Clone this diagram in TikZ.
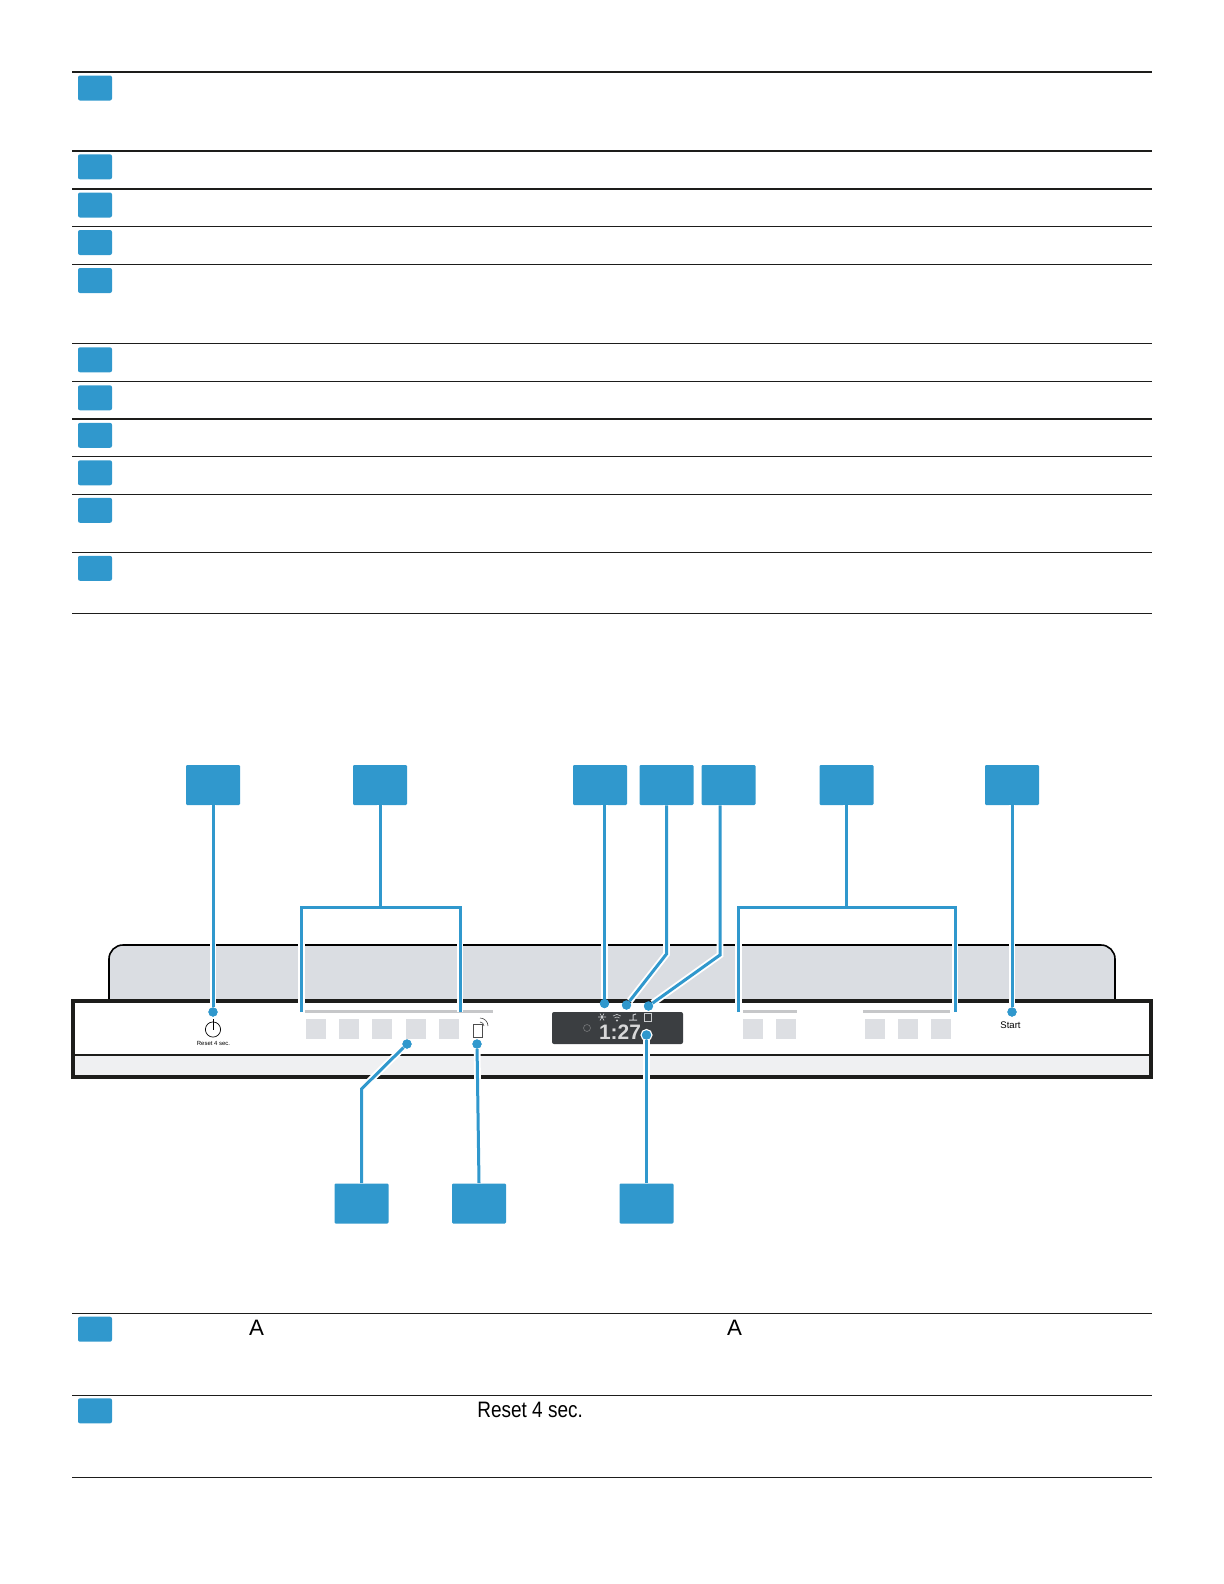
\documentclass[tikz,border=0pt]{standalone}
\usepackage{fontspec}
\setmainfont{Liberation Sans}
\newfontfamily\narrowfont[FakeStretch=0.85]{Liberation Sans}

\tikzset{
    tag/.style={fill=calloutblue, rounded corners=1bp, inner sep=0pt, minimum width=17bp, minimum height=12.5bp},
    callout/.style={fill=calloutblue, rounded corners=0.6bp, inner sep=0pt, minimum width=27bp, minimum height=20bp},
    lead/.style={preaction={draw=white, line width=3.4bp}, draw=calloutblue, line width=1.5bp, line join=miter},
    leaddot/.style={circle, fill=calloutblue, inner sep=0pt, minimum size=4.6bp},
    key/.style={fill=keygrey, inner sep=0pt, minimum size=10bp},
    keybar/.style={draw=bargrey, line width=1.2bp},
    icon/.style={draw=iconwhite, line width=0.3bp},
}
\definecolor{calloutblue}{HTML}{3098CD}
\definecolor{keygrey}{HTML}{DDDFE3}
\definecolor{bargrey}{HTML}{C6C7C9}
\definecolor{fasciagrey}{HTML}{DADDE2}
\definecolor{stripgrey}{HTML}{EFF0F2}
\definecolor{panelblack}{HTML}{1D1D1B}
\definecolor{screengrey}{HTML}{3B3E41}
\definecolor{iconwhite}{HTML}{C9CBCD}

\begin{document}
\begin{tikzpicture}[x=0.5bp, y=-0.5bp]
    \useasboundingbox (0,0) rectangle (1224,1584);

    % upper table
    \foreach \ypos/\wid [count=\i] in {71.7/1.0, 150.5/1.0, 188.7/1.0, 226.2/0.6, 264.2/0.6, 343.5/0.5, 381.5/0.6, 419/0.9, 456.5/0.6, 494/0.5, 552/0.5} {
        \coordinate (rule\i-l) at (72,\ypos);
        \coordinate (rule\i-r) at (1152,\ypos);
        \draw[panelblack, line width=\wid bp] (rule\i-l) -- (rule\i-r);
        \node[tag] (row\i) at (95,\ypos+16.3) {};
    }
    \coordinate (rule12-l) at (72,613);
    \coordinate (rule12-r) at (1152,613);
    \draw[panelblack, line width=0.5bp] (rule12-l) -- (rule12-r);

    % lower table
    \foreach \ypos [count=\i] in {1313.4, 1395} {
        \coordinate (low\i-l) at (72,\ypos);
        \coordinate (low\i-r) at (1152,\ypos);
        \draw[panelblack, line width=0.5bp] (low\i-l) -- (low\i-r);
        \node[tag] (lowrow\i) at (95,\ypos+15.8) {};
    }
    \coordinate (low3-l) at (72,1477);
    \coordinate (low3-r) at (1152,1477);
    \draw[panelblack, line width=0.5bp] (low3-l) -- (low3-r);
    \node[font=\fontsize{11.2}{13}\selectfont, inner sep=0pt, anchor=base] (letter1) at (256.5,1335) {A};
    \node[font=\fontsize{11.2}{13}\selectfont, inner sep=0pt, anchor=base] (letter2) at (734.5,1335) {A};
    \node[font=\fontsize{11.2}{13}\selectfont\narrowfont, inner sep=0pt, anchor=base west] (reset) at (477,1417) {Reset 4 sec.};

    % appliance panel
    \draw[fill=fasciagrey, draw=black, line width=0.8bp, rounded corners=7bp]
        (109,1003) -- (109,945) -- (1115,945) -- (1115,1003);
    \fill[white] (73,1001) rectangle (1151,1055);
    \fill[stripgrey] (73,1055) rectangle (1151,1077);
    \draw[panelblack, line width=1.55bp] (73,1001) rectangle (1151,1077);
    \draw[panelblack, line width=1bp] (73,1055) -- (1151,1055);

    % keys and bars
    \draw[keybar] (305,1011.5) -- (493,1011.5);
    \draw[keybar] (743,1011.5) -- (797,1011.5);
    \draw[keybar] (863,1011.5) -- (950,1011.5);
    \foreach \xpos [count=\i] in {316, 349, 382, 415.5, 448.5, 752.5, 786, 874.5, 907.5, 941} {
        \node[key] (key\i) at (\xpos,1029) {};
    }

    % power symbol
    \node[circle, draw=black, line width=0.35bp, inner sep=0pt, minimum size=7.6bp] (power) at (213,1029.5) {};
    \draw[black, line width=0.35bp] (213,1019) -- (power.center);
    \node[font=\fontsize{3}{3}\selectfont, inner sep=0pt] (powerlabel) at (213.5,1043.5) {Reset 4 sec.};

    % remote start symbol
    \node[draw=black!70, line width=0.3bp, inner sep=0pt, minimum width=4.5bp, minimum height=6.5bp] (phone) at (477.5,1030.5) {};
    \draw[black!70, line width=0.3bp] (480,1022) arc (-90:0:4);
    \draw[black!70, line width=0.3bp] (480,1018) arc (-90:0:8);

    % start label
    \node[font=\fontsize{4.8}{5}\selectfont, inner sep=0pt] (startlabel) at (1010.5,1025.5) {Start};

    % display
    \node[fill=screengrey, rounded corners=1bp, inner sep=0pt, minimum width=65.5bp, minimum height=16bp] (screen) at (617.5,1028) {};
    \node[font=\fontsize{10.5}{11}\selectfont\bfseries, text=white!80!screengrey, inner sep=0pt] (clock) at (620,1032.5) {1:27};
    \node[circle, draw=white!30!screengrey, line width=0.3bp, inner sep=0pt, minimum size=3.5bp] (ghost) at (587,1028) {};
    % display icons
    \draw[icon] (598,1017) -- (606,1017) (600,1013.5) -- (604,1020.5) (604,1013.5) -- (600,1020.5);
    \draw[icon] (613,1016) arc (-135:-45:5.5) (614.5,1018) arc (-135:-45:3.5);
    \fill[iconwhite] (617,1020.5) circle (1.2);
    \draw[icon, line width=0.5bp] (629,1020) -- (637,1020) (633,1020) -- (633,1015) -- (636,1014);
    \draw[icon] (644,1013.5) rectangle (651,1021);

    % lead dots
    \node[leaddot] (dot-power) at (213,1012) {};
    \node[leaddot] (dot-snow) at (604.5,1003.5) {};
    \node[leaddot] (dot-wifi) at (626.5,1005) {};
    \node[leaddot] (dot-salt) at (648.5,1006) {};
    \node[leaddot] (dot-start) at (1012,1012) {};
    \node[leaddot] (dot-key) at (407,1044) {};
    \node[leaddot] (dot-phone) at (477,1044) {};
    \node[leaddot, preaction={draw=white, line width=1.4bp}] (dot-time) at (646.5,1035) {};

    % callouts above
    \node[callout] (c-power) at (213,785) {};
    \node[callout] (c-left) at (380,785) {};
    \node[callout] (c-snow) at (600,785) {};
    \node[callout] (c-wifi) at (666.5,785) {};
    \node[callout] (c-salt) at (728.5,785) {};
    \node[callout] (c-right) at (846.5,785) {};
    \node[callout] (c-start) at (1012,785) {};

    % callouts below
    \node[callout] (c-key) at (361.5,1203.5) {};
    \node[callout] (c-phone) at (479,1203.5) {};
    \node[callout] (c-time) at (646.5,1203.5) {};

    % bracket corners and bends
    \coordinate (left-a) at (301.5,1012);
    \coordinate (left-b) at (301.5,907);
    \coordinate (left-c) at (460,907);
    \coordinate (left-d) at (460,1012);
    \coordinate (right-a) at (738.5,1012);
    \coordinate (right-b) at (738.5,907);
    \coordinate (right-c) at (955,907);
    \coordinate (right-d) at (955,1012);
    \coordinate (wifi-bend) at (666.5,954);
    \coordinate (salt-bend) at (720,955);
    \coordinate (key-bend) at (361.5,1089);

    % leads
    \draw[lead] (c-power.south) -- (dot-power);
    \draw[lead] (left-a) -- (left-b) -- (left-c) -- (left-d) (c-left.south) -- (c-left.south |- left-b);
    \draw[lead] (c-snow.south -| dot-snow) -- (dot-snow);
    \draw[lead] (c-wifi.south) -- (wifi-bend) -- (dot-wifi);
    \draw[lead] (c-salt.south -| salt-bend) -- (salt-bend) -- (dot-salt);
    \draw[lead] (right-a) -- (right-b) -- (right-c) -- (right-d) (c-right.south) -- (c-right.south |- right-b);
    \draw[lead] (c-start.south) -- (dot-start);
    \draw[lead] (c-key.north) -- (key-bend) -- (dot-key);
    \draw[lead] (c-phone.north) -- (dot-phone);
    \draw[lead] (c-time.north) -- (dot-time);

    % dots again, above the casing of the leads
    \foreach \dotname in {dot-power, dot-snow, dot-wifi, dot-salt, dot-start, dot-key, dot-phone, dot-time} {
        \fill[calloutblue] (\dotname) circle (4.6);
    }

\end{tikzpicture}
\end{document}
